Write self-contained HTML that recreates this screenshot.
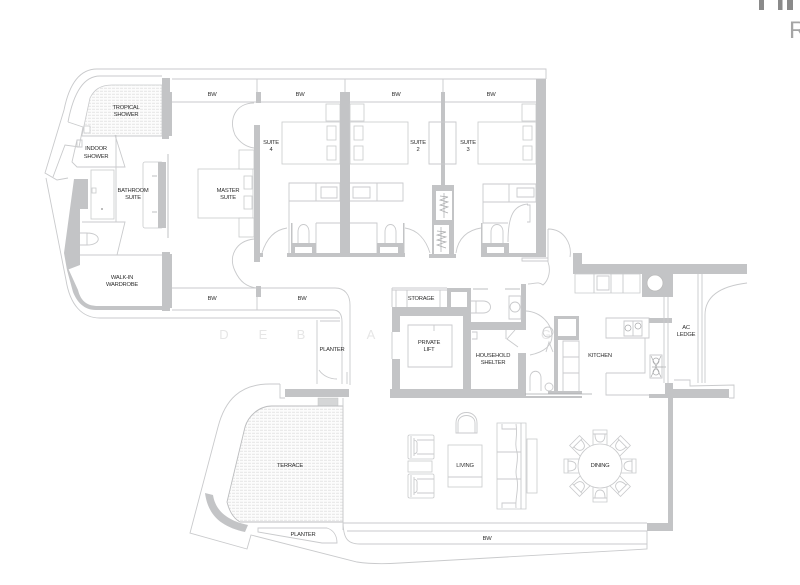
<!DOCTYPE html>
<html><head><meta charset="utf-8"><style>
html,body{margin:0;padding:0;background:#fff;width:800px;height:585px;overflow:hidden}
svg{display:block;filter:blur(.35px)}
text{font-family:"Liberation Sans",sans-serif;font-size:5.8px;letter-spacing:-.25px;fill:#2f2f2f;text-anchor:middle}
.wm{font-size:13px;fill:#e6e6e6;letter-spacing:0}
.w{fill:#c3c4c6;stroke:none}
.l{fill:none;stroke:#c9cacc;stroke-width:.9}
.d{fill:none;stroke:#a9aaac;stroke-width:.7}
.f{fill:#fff;stroke:#c9cacc;stroke-width:.8}
</style></head><body>
<svg width="800" height="585" viewBox="0 0 800 585" xmlns="http://www.w3.org/2000/svg">
<defs>
<pattern id="h" width="4" height="3" patternUnits="userSpaceOnUse"><rect width="4" height="3" fill="#fcfcfc"/><path d="M0 1.2H3" stroke="#dcdddd" stroke-width=".7"/></pattern>
<g id="ch"><path class="f" d="M-7 -36H7V-18H-7Z"/><path class="l" d="M-7 -32H7M-5 -32C-5 -26 -3 -24 0 -24C3 -24 5 -26 5 -32"/></g>
<g id="ac"><rect x="0" y="0" width="26" height="24" rx="1.500" class="f"/><path class="l" d="M3 1V23M6 3V21M6 5C10 6 9 8 9 12C9 16 10 18 6 19M9 5H26M9 19H26"/></g>
</defs>

<!-- header -->
<rect x="759" y="0" width="5" height="10" fill="#8a8a8a"/><rect x="778" y="0" width="4.500" height="10" fill="#8a8a8a"/><rect x="787" y="0" width="6" height="10" fill="#8a8a8a"/>
<text x="789" y="38" style="font-size:24px;fill:#a5a5a5;text-anchor:start;letter-spacing:0">R</text>

<!-- watermark -->
<text x="224" y="339" class="wm">D</text><text x="263" y="339" class="wm">E</text><text x="301" y="339" class="wm">B</text><text x="371" y="339" class="wm">A</text><text x="546" y="339" class="wm">G</text>

<!-- outer envelope top / left -->
<path class="l" d="M546 79V69H97C82 69 70 80 64 110L45 173L57 180L68 178"/>
<path class="l" d="M162 76H100C85 76 74 90 68 122"/>
<path class="l" d="M172 79H546M172 102H536M172 288H335C345 288 350 295 350 305V385M172 310H333C339 310 342 314 342 322V384"/>
<path class="l" d="M68 122L83 127L79 147L65 145L53 177"/>
<path class="l" d="M46 178L66 280C70 305 82 318 100 318H340"/>
<path class="l" d="M257 79V92M345 79V92M443 79V92"/>

<!-- tropical shower -->
<path d="M82 135L90 98C94 90 100 85 112 85H162V136H82Z" fill="url(#h)" stroke="#c9cacc" stroke-width=".8"/>
<rect x="84" y="126" width="6" height="7" class="f"/>
<path class="l" d="M77 140H82V147H77ZM82 136H163M115 135L125 167H77L72 162L77 140"/>
<!-- bath -->
<rect x="91" y="170" width="23" height="49" class="f"/><rect x="92" y="188" width="4" height="5" class="f"/><circle cx="102" cy="209" r="1" fill="#aaa"/>
<path class="l" d="M116 135V222M82 222H125L117 255M80 255H163"/>
<path class="l" d="M80 233H87V245H80M87 233C102 233 102 245 87 245"/>
<!-- vanity -->
<rect x="143" y="162" width="20" height="66" rx="2" class="f"/><rect x="158" y="162" width="8" height="66" class="w"/>
<path class="d" d="M168 154V238M152 176H157M152 212H157"/>
<!-- walls bathroom -->
<path class="w" d="M74 179H88V209H80V265L67 270L64 253Z"/>
<path class="w" d="M68 268L78 290C81 302 88 306 98 306H163V310H96C84 310 77 302 73 292L67 270Z"/>
<path class="w" d="M162 78H170V92H172V136H169V139H162Z"/>
<path class="w" d="M162 252H170V254H172V308H170V311H162Z"/>
<!-- master -->
<rect x="198" y="169" width="55" height="49" class="f"/><rect x="244" y="176" width="8" height="13" class="f"/><rect x="244" y="196" width="8" height="13" class="f"/>
<rect x="239" y="150" width="15" height="19" class="f"/><rect x="239" y="218" width="15" height="19" class="f"/>
<path class="l" d="M254 103C236 103 228 119 235 135C240 143 247 147 254 148M254 239C236 241 228 256 235 271C240 282 247 287 257 288"/>
<rect x="254" y="125" width="6" height="137" class="w"/>
<rect x="256" y="92" width="5" height="11" class="w"/><rect x="256" y="286" width="5" height="11" class="w"/>
<path class="l" d="M257 297V310"/>
<!-- suite 4 -->
<rect x="326" y="104" width="14" height="17" class="f"/>
<rect x="282" y="122" width="58" height="42" class="f"/><rect x="327" y="126" width="9" height="14" class="f"/><rect x="327" y="146" width="9" height="14" class="f"/>
<path class="l" d="M289 183H340V201H289ZM289 183V253M316 183V201M321 187H337V198H321ZM316 223H340M316 223V253"/>
<path class="l" d="M262 253C266 240 273 230 287 228"/>
<rect x="291" y="223" width="1.500" height="30" class="w"/>
<rect x="291" y="243" width="25" height="10" class="w"/>
<rect x="295" y="247" width="17" height="6" fill="#fff"/>
<path class="l" d="M298 243V232C298 222 309 222 309 232V243"/>
<rect x="287" y="253" width="118" height="4" class="w"/><rect x="260" y="253" width="3" height="4" class="w"/>
<rect x="340" y="92" width="10" height="165" class="w"/>
<!-- suite 2 -->
<rect x="350" y="122" width="58" height="42" class="f"/><rect x="354" y="126" width="9" height="14" class="f"/><rect x="354" y="146" width="9" height="14" class="f"/>
<rect x="350" y="104" width="14" height="17" class="f"/>
<path class="l" d="M350 183H403V201H350M377 183V201M353 187H370V198H353ZM350 223H377V253"/>
<rect x="377" y="243" width="26" height="10" class="w"/><rect x="403" y="223" width="1.500" height="30" class="w"/>
<rect x="380" y="247" width="18" height="6" fill="#fff"/>
<path class="l" d="M385 243V232C385 222 396 222 396 232V243"/>
<path class="l" d="M405 228C418 230 426 240 430 253"/>
<rect x="429" y="254" width="27" height="4" class="w"/>
<rect x="441" y="92" width="4" height="94" class="w"/>
<path class="l" d="M429 122H456V164H429Z"/>
<!-- closet -->
<rect x="432" y="185" width="22" height="70" class="w"/>
<rect x="436" y="191" width="16" height="29" fill="#fff"/><rect x="434" y="225" width="15" height="29" fill="#fff"/>
<path class="d" d="M444 193V218M440 196L448 197L440 200L448 202L440 205L448 207L440 210L448 213M441 227V252M437 231L446 232L437 235L446 237L437 240L446 242L437 245L446 248"/>
<!-- suite 3 -->
<rect x="478" y="122" width="58" height="42" class="f"/><rect x="523" y="126" width="9" height="14" class="f"/><rect x="523" y="146" width="9" height="14" class="f"/>
<rect x="522" y="104" width="14" height="17" class="f"/>
<path class="l" d="M483 184H536V202H483ZM509 184V202M517 188H534V197H517ZM483 202V223H508"/>
<path class="l" d="M456 253C458 238 468 230 481 228"/>
<rect x="481" y="223" width="1.500" height="30" class="w"/><rect x="481" y="243" width="28" height="10" class="w"/><rect x="481" y="253" width="58" height="4" class="w"/>
<rect x="487" y="247" width="17" height="6" fill="#fff"/>
<path class="l" d="M491 243V232C491 222 503 222 503 232V243"/>
<path class="l" d="M508 242C508 215 514 205 528 204M527 205H530V222H527"/>
<rect x="536" y="79" width="10" height="178" class="w"/>
<!-- door by right wall -->
<path class="l" d="M548 229C565 229 572 245 570 257M548 229V262M522 258H548V261H522ZM548 262C551 270 549 280 543 285C538 281 535 284 528 284"/>

<!-- service area walls -->
<rect x="447" y="288" width="24" height="19" class="w"/><rect x="451" y="292" width="16" height="15" fill="#fff"/>
<path class="l" d="M392 288H447M392 290H447M392 288V307M396 290V307M407 290V307M440 290V307"/>
<rect x="392" y="307" width="79" height="9" class="w"/>
<rect x="392" y="307" width="8" height="25" class="w"/><rect x="392" y="359" width="8" height="31" class="w"/>
<rect x="390" y="389" width="136" height="9" class="w"/>
<rect x="463" y="307" width="8" height="91" class="w"/>
<rect x="467" y="288" width="4" height="42" class="w"/>
<rect x="471" y="322" width="55" height="8" class="w"/>
<rect x="521" y="284" width="5" height="46" class="w"/>
<rect x="518" y="353" width="8" height="45" class="w"/>
<path class="l" d="M392 332V359M408 325H452V367H408ZM434 325V331"/>
<!-- bath near lift -->
<path class="l" d="M471 301H483C493 301 493 313 483 313H471M476 301V313M509 296H521V319H509Z"/>
<circle cx="515" cy="307" r="5" class="l"/>
<path class="d" d="M473 289H488M505 289H520"/>
<path class="l" d="M526 311C542 312 552 325 552 336C552 345 545 352 530 355"/>
<circle cx="548" cy="332" r="5" class="l"/>
<path class="l" d="M515 330L507 339L518 347M506 330V339M472 332H477V339H472"/>
<path class="l" d="M530 391V378C530 369 541 369 541 378V391M546 352L549 342L553 352"/>
<circle cx="549" cy="387" r="4" class="l"/>
<!-- utility + kitchen -->
<rect x="554" y="316" width="25" height="24" class="w"/><rect x="558" y="319" width="18" height="17" fill="#fff"/>
<rect x="554" y="340" width="4" height="53" class="w"/>
<path class="l" d="M563 341H579V392H563ZM563 357H579M563 373H579"/>
<rect x="548" y="391" width="34" height="3" class="w"/><rect x="525" y="396" width="57" height="2" class="w"/>
<path class="d" d="M525 394H592"/>
<path class="l" d="M606 318H649V338H606ZM606 373H645V338M606 373V395H649"/>
<path class="l" d="M624 321H642V336H624ZM633 321V336"/>
<circle cx="628" cy="328" r="3" class="d"/><circle cx="638" cy="326" r="3" class="d"/>
<path class="l" d="M650 355H662V378H650Z"/>
<path class="d" d="M651 356L661 377M661 356L651 377M652 367H666"/>
<circle cx="656" cy="361" r="3" class="d"/><circle cx="656" cy="372" r="3" class="d"/>
<rect x="649" y="318" width="23" height="5" class="w"/><rect x="649" y="394" width="18" height="4" class="w"/>
<path class="w" d="M573 253H582V264H747V274H673V297H642V274H573Z"/>
<path class="f" d="M575 274H640V293H575Z"/>
<path class="l" d="M594 274V293M611 274V293M623 274V293"/>
<path class="l" d="M597 276H609V290H597Z"/>
<circle cx="655" cy="283" r="8" fill="#fff" stroke="#bbb" stroke-width=".8"/>
<!-- AC ledge -->
<path class="l" d="M664 297V383M668 297V383M698 274V383M702 274V383M747 283C722 286 705 295 705 315V383M674 380H690V386L734 385V398H729"/>
<path class="w" d="M665 383H673V389H729V398H673V531H647V523H668V398H665Z"/>

<!-- planter & lower left -->
<path class="l" d="M317 320V384M320 321H340M319 370C323 376 330 379 337 379M347 372V384"/>
<path class="l" d="M280 384V398H285M280 384H270C240 384 225 400 218 427L190 533L247 549L251 535L357 562C370 564 385 564 400 563L647 549V531"/>
<rect x="285" y="389" width="64" height="8" class="w"/>
<rect x="318" y="398" width="20" height="8" fill="#d5d6d7" stroke="#c3c4c6" stroke-width=".5"/>
<path d="M272 406H343V522H240C233 518 229 510 227 502L245 427C248 417 258 406 272 406Z" fill="url(#h)" stroke="#bcbdbf" stroke-width=".9"/>
<path class="l" d="M343 398V530M343 523H647M347 531H647M343 520C343 538 347 544 360 544H647"/>
<path class="l" d="M258 528H327C333 530 337 535 337 543H322L258 532Z"/>
<path class="w" d="M205 493L213 495C215 508 224 520 248 525L245 532C222 527 208 516 205 493Z"/>

<!-- furniture -->
<use href="#ac" x="408" y="435"/>
<use href="#ac" x="408" y="474"/>
<rect x="408" y="461" width="24" height="11" class="f"/>
<rect x="448" y="445" width="34" height="42" class="f"/><path class="l" d="M448 477H482"/>
<path class="l" d="M456 433V423C456 409 477 409 477 423V433ZM458 433V423C458 413 475 413 475 423V433"/>
<path class="f" d="M497 423H526V509H497Z"/><path class="l" d="M521 423V509M516 424C518 437 514 442 517 452C519 462 514 470 517 479C519 490 515 498 516 508M497 452H521M497 479H521M502 424V429H516M502 508V503H516"/>
<rect x="527" y="439" width="10" height="54" class="f"/>
<g transform="translate(600 466)"><use href="#ch"/><use href="#ch" transform="rotate(45)"/><use href="#ch" transform="rotate(90)"/><use href="#ch" transform="rotate(135)"/><use href="#ch" transform="rotate(180)"/><use href="#ch" transform="rotate(225)"/><use href="#ch" transform="rotate(270)"/><use href="#ch" transform="rotate(315)"/><circle r="22" class="f"/></g>

<!-- labels -->
<text x="212" y="96">BW</text><text x="300" y="96">BW</text><text x="396" y="96">BW</text><text x="491" y="96">BW</text>
<text x="212" y="300">BW</text><text x="302" y="300">BW</text><text x="487" y="540">BW</text>
<text x="126" y="109">TROPICAL</text><text x="126" y="116">SHOWER</text>
<text x="96" y="150">INDOOR</text><text x="96" y="158">SHOWER</text>
<text x="133" y="192">BATHROOM</text><text x="133" y="199">SUITE</text>
<text x="228" y="192">MASTER</text><text x="228" y="199">SUITE</text>
<text x="122" y="279">WALK-IN</text><text x="122" y="286">WARDROBE</text>
<text x="271" y="144">SUITE</text><text x="271" y="151">4</text>
<text x="418" y="144">SUITE</text><text x="418" y="151">2</text>
<text x="468" y="144">SUITE</text><text x="468" y="151">3</text>
<text x="421" y="300">STORAGE</text>
<text x="429" y="344">PRIVATE</text><text x="429" y="351">LIFT</text>
<text x="493" y="357">HOUSEHOLD</text><text x="493" y="364">SHELTER</text>
<text x="600" y="357">KITCHEN</text>
<text x="686" y="329">AC</text><text x="686" y="336">LEDGE</text>
<text x="332" y="351">PLANTER</text>
<text x="290" y="467">TERRACE</text><text x="303" y="536">PLANTER</text>
<text x="465" y="467">LIVING</text><text x="600" y="467">DINING</text>
</svg>
</body></html>
